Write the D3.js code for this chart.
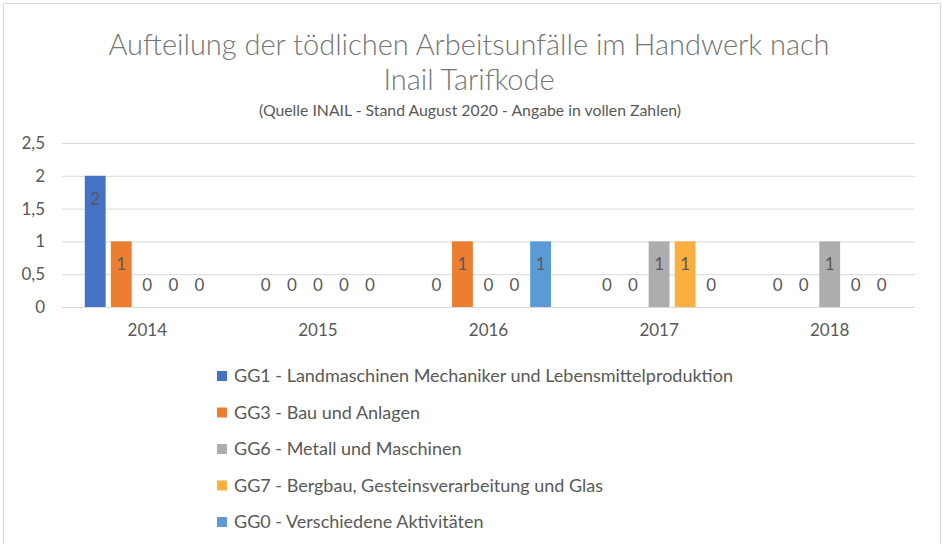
<!DOCTYPE html>
<html>
<head>
<meta charset="utf-8">
<script src="https://cdn.jsdelivr.net/npm/d3@7"></script>
<style>
  body { margin: 0; background: #fff; }
  svg { display: block; font-family: Lato, "Open Sans", sans-serif; }
</style>
</head>
<body>
<svg id="chart" width="943" height="544"></svg>
<script>
// data
var years = ["2014", "2015", "2016", "2017", "2018"];
var seriesNames = [
  "GG1 - Landmaschinen Mechaniker und Lebensmittelproduktion",
  "GG3 - Bau und Anlagen",
  "GG6 - Metall und Maschinen",
  "GG7 - Bergbau, Gesteinsverarbeitung und Glas",
  "GG0 - Verschiedene Aktivitäten"
];
var gg1 = [2, 0, 0, 0, 0];
var gg3 = [1, 0, 1, 0, 0];
var gg6 = [0, 0, 0, 1, 1];
var gg7 = [0, 0, 0, 1, 0];
var gg0 = [0, 0, 1, 0, 0];
var seriesColors = ["#4472C4", "#ED7D31", "#ADADB0", "#FBAF40", "#5B9BD5"];
var yTicks = [0, 0.5, 1, 1.5, 2, 2.5];

var allSeries = [gg1, gg3, gg6, gg7, gg0];

var svg = d3.select("#chart");

// chart frame
svg.append("rect")
    .attr("x", 3.5).attr("y", 3.5)
    .attr("width", 937).attr("height", 560)
    .attr("fill", "#fff")
    .attr("stroke", "#D9D9D9")
    .attr("stroke-width", 1);

// titles
svg.append("text")
    .attr("x", 469).attr("y", 55)
    .attr("text-anchor", "middle")
    .attr("font-size", 29)
    .attr("font-weight", 300)
    .attr("fill", "#757575")
    .text("Aufteilung der tödlichen Arbeitsunfälle im Handwerk nach");
svg.append("text")
    .attr("x", 469).attr("y", 90)
    .attr("text-anchor", "middle")
    .attr("font-size", 29)
    .attr("font-weight", 300)
    .attr("fill", "#757575")
    .text("Inail Tarifkode");
svg.append("text")
    .attr("x", 470).attr("y", 116)
    .attr("text-anchor", "middle")
    .attr("font-size", 15.8)
    .attr("fill", "#595959")
    .text("(Quelle INAIL - Stand August 2020 - Angabe in vollen Zahlen)");

var plotLeft = 62, plotRight = 915, plotTop = 143, plotBottom = 307;

var x0 = d3.scaleBand()
    .domain(years)
    .range([plotLeft, plotRight]);

var x1 = d3.scaleBand()
    .domain(d3.range(allSeries.length))
    .range([x0.bandwidth() / 2 - 62.5, x0.bandwidth() / 2 + 62.5])
    .paddingInner(0.2);

var y = d3.scaleLinear()
    .domain([0, 2.5])
    .range([plotBottom, plotTop]);

var fmt = function(d) { return String(d).replace(".", ","); };

// gridlines
svg.append("g")
    .attr("transform", "translate(" + plotLeft + ",0)")
    .call(d3.axisLeft(y).tickValues(yTicks).tickSize(-(plotRight - plotLeft)).tickFormat(""))
    .call(function(g) { g.select(".domain").remove(); })
    .selectAll("line")
    .attr("stroke", "#D9D9D9")
    .attr("stroke-width", 1);

// y labels
var yAxis = svg.append("g")
    .attr("transform", "translate(" + plotLeft + ",0)")
    .call(d3.axisLeft(y).tickValues(yTicks).tickSize(0).tickPadding(17).tickFormat(fmt));
yAxis.select(".domain").remove();
yAxis.selectAll("text")
    .attr("font-family", "Lato, sans-serif")
    .attr("font-size", 17)
    .attr("fill", "#595959");

// x labels
var xAxis = svg.append("g")
    .attr("transform", "translate(0," + plotBottom + ")")
    .call(d3.axisBottom(x0).tickSize(0).tickPadding(17));
xAxis.select(".domain").remove();
xAxis.selectAll("text")
    .attr("font-family", "Lato, sans-serif")
    .attr("font-size", 17)
    .attr("fill", "#595959");

// bars
var groups = svg.append("g")
    .selectAll("g")
    .data(years)
    .enter()
    .append("g")
    .attr("transform", function(d) { return "translate(" + x0(d) + ",0)"; });

groups.selectAll("rect")
    .data(function(yr, i) { return allSeries.map(function(s, k) { return { k: k, v: s[i] }; }); })
    .enter()
    .append("rect")
    .attr("x", function(d) { return x1(d.k); })
    .attr("y", function(d) { return y(d.v); })
    .attr("width", x1.bandwidth())
    .attr("height", function(d) { return y(0) - y(d.v); })
    .attr("fill", function(d) { return seriesColors[d.k]; });

groups.selectAll("text")
    .data(function(yr, i) { return allSeries.map(function(s, k) { return { k: k, v: s[i] }; }); })
    .enter()
    .append("text")
    .attr("x", function(d) { return x1(d.k) + x1.bandwidth() / 2; })
    .attr("y", function(d) { return d.v > 0 ? y(d.v) + 29 : y(0) - 16; })
    .attr("text-anchor", "middle")
    .attr("font-size", 17)
    .attr("fill", "#595959")
    .text(function(d) { return d.v; });

// legend
var legend = svg.append("g")
    .selectAll("g")
    .data(seriesNames)
    .enter()
    .append("g")
    .attr("transform", function(d, i) { return "translate(217," + (376 + i * 36.5) + ")"; });

legend.append("rect")
    .attr("x", 0).attr("y", -5)
    .attr("width", 10).attr("height", 10)
    .attr("fill", function(d, i) { return seriesColors[i]; });

legend.append("text")
    .attr("x", 17).attr("y", 6)
    .attr("font-size", 18)
    .attr("fill", "#595959")
    .text(function(d) { return d; });
</script>
</body>
</html>
